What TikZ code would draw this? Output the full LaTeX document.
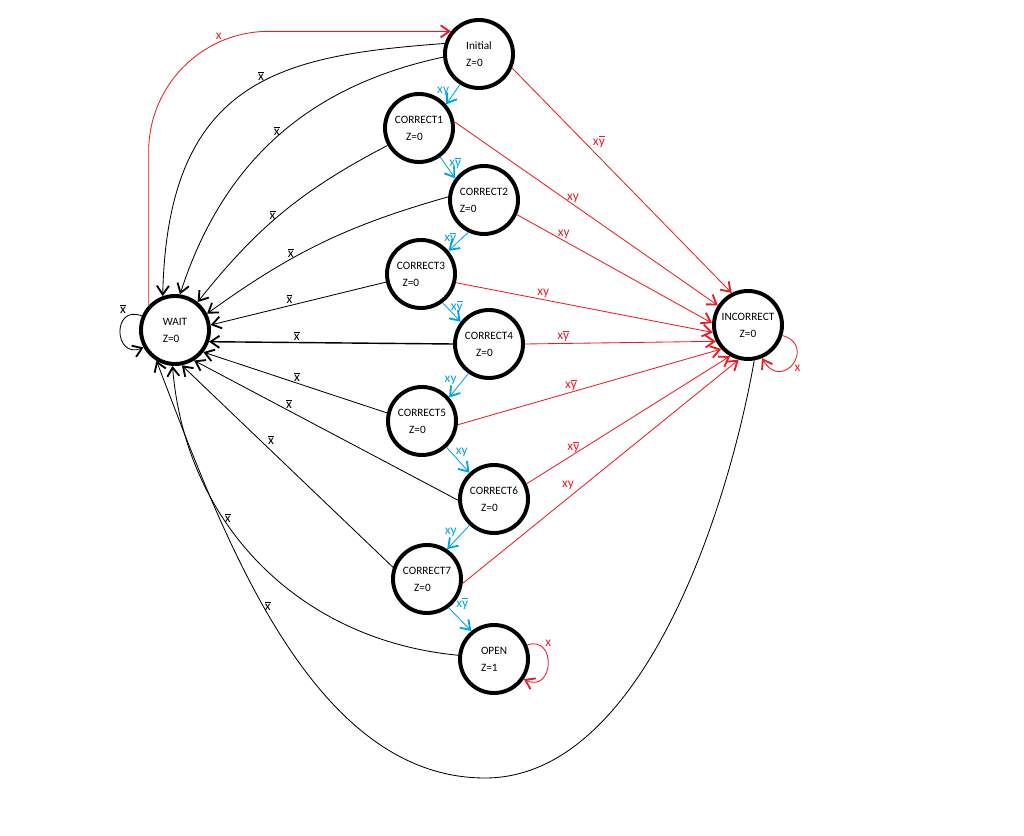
\documentclass[tikz,border=0pt]{standalone}
\usepackage{fontspec}
\setmainfont{Carlito}
\usepackage{tikz}
\usetikzlibrary{arrows.meta}

\definecolor{errred}{RGB}{237,28,36}
\definecolor{okblue}{RGB}{0,162,232}
\newcommand{\nx}{$\overline{\mbox{x}}$}
\newcommand{\ny}{$\overline{\mbox{y}}$}

\begin{document}
\begin{tikzpicture}[
    x=0.025cm, y=0.025cm,
    state/.style={circle, draw=black, line width=2.8pt, minimum size=1.7cm, inner sep=0pt, align=left, font=\fontsize{8}{12}\selectfont},
    arrow/.style={line width=0.6pt, -{Straight Barb[length=2.2mm, width=3mm, line width=1.3pt]}},
    backedge/.style={arrow, black},
    failedge/.style={arrow, errred},
    nextedge/.style={arrow, okblue},
    lbl/.style={font=\fontsize{9.5}{10}\selectfont, inner sep=1pt}
]
\useasboundingbox (0,0) rectangle (1024,835);

% states
\node[state] (init) at (479,781) {Initial\\Z=0};
\node[state] (c1) at (419,707) {CORRECT1\\\quad Z=0};
\node[state] (c2) at (484,635) {CORRECT2\\Z=0};
\node[state] (c3) at (421,561) {CORRECT3\\\enspace Z=0};
\node[state] (c4) at (489,491) {CORRECT4\\\quad Z=0};
\node[state] (c5) at (422,414) {CORRECT5\\\quad Z=0};
\node[state] (c6) at (494,336) {CORRECT6\\\quad Z=0};
\node[state] (c7) at (427,256) {CORRECT7\\\quad Z=0};
\node[state] (open) at (494,176) {OPEN\\Z=1};
\node[state] (wait) at (175,505) {WAIT\\Z=0};
\node[state, align=center] (incorrect) at (748,510) {INCORRECT\\Z=0};
\coordinate (bottom) at (485,57);

% back to WAIT
\draw[backedge] (init.163) .. controls +(-160,-12) and +(5,220) .. node[lbl, pos=0.45, above] {\nx} (wait.110);
\draw[backedge] (init.185) to[bend right=30] node[lbl, pos=0.5, above] {\nx} (wait.82);
\draw[backedge] (c1.209) to[bend right=12] node[lbl, pos=0.56, above] {\nx} (wait.51);
\draw[backedge] (c2.175) to[bend right=10] node[lbl, pos=0.64, above] {\nx} (wait.27);
\draw[backedge] (c3.193) -- node[lbl, pos=0.55, above] {\nx} (wait.8);
\draw[backedge, line width=1pt] (c4.180) -- node[lbl, pos=0.64, above] {\nx} (wait.-19);
\draw[backedge] (c5.167) -- node[lbl, pos=0.49, above] {\nx} (wait.-38);
\draw[backedge] (c6.182) -- node[lbl, pos=0.64, above] {\nx} (wait.-58);
\draw[backedge] (c7.161) -- node[lbl, pos=0.6, above right] {\nx} (wait.-79);
\draw[backedge] (open.174) to[bend left=40] node[lbl, pos=0.64, right] {\nx} (wait.-94);
\draw[backedge] (incorrect.-80) to[out=-100, in=0, looseness=0.8] (bottom)
    to[out=180, in=-69, looseness=0.85] node[lbl, pos=0.55, right] {\nx} (wait.-121);
\draw[backedge] (wait.157) .. controls +(-30,12) and +(-30,-12) .. node[lbl, pos=0.2, above left] {\nx} (wait.209);

% wrong input
\draw[failedge, rounded corners=3cm] (wait.137) |- node[lbl, pos=0.616, below] {x} (init.141);
\draw[failedge] (init.-23) -- node[lbl, pos=0.36, above right] {x\ny} (incorrect.117);
\draw[failedge] (c1.10) -- node[lbl, pos=0.45, above] {xy} (incorrect.147);
\draw[failedge] (c2.-24) -- node[lbl, pos=0.24, above] {xy} (incorrect.177);
\draw[failedge] (c3.-14) -- node[lbl, pos=0.34, above] {xy} (incorrect.192);
\draw[failedge] (c4.0) -- node[lbl, pos=0.2, above] {x\ny} (incorrect.207);
\draw[failedge] (c5.-6) -- node[lbl, pos=0.43, above] {x\ny} (incorrect.222);
\draw[failedge] (c6.25) -- node[lbl, pos=0.23, above] {x\ny} (incorrect.240);
\draw[failedge] (c7.-7) -- node[lbl, pos=0.41, above left] {xy} (incorrect.255);
\draw[failedge] (open.23) .. controls +(30,10) and +(30,-15) .. node[lbl, pos=0.25, above right] {x} (open.-34);
\draw[failedge] (incorrect.-17) .. controls +(35,-10) and +(20,-35) .. node[lbl, pos=0.5, below right] {x} (incorrect.-67);

% right input
\draw[nextedge] (init.238) -- node[lbl, pos=0.35, left=3pt] {xy} (c1.41);
\draw[nextedge] (c1.-54) -- node[lbl, pos=0.3, right=2pt] {x\ny} (c2.143);
\draw[nextedge] (c2.244) -- node[lbl, pos=0.3, left=3pt] {x\ny} (c3.40);
\draw[nextedge] (c3.-53) -- node[lbl, pos=0.2, right=2pt] {x\ny} (c4.142);
\draw[nextedge] (c4.235) -- node[lbl, pos=0.3, left=3pt] {xy} (c5.41);
\draw[nextedge] (c5.-47) -- node[lbl, pos=0.2, right=2pt] {xy} (c6.133);
\draw[nextedge] (c6.227) -- node[lbl, pos=0.3, left=3pt] {xy} (c7.56);
\draw[nextedge] (c7.-53) -- node[lbl, pos=0.2, above right=1pt] {x\ny} (open.129);

\end{tikzpicture}
\end{document}
